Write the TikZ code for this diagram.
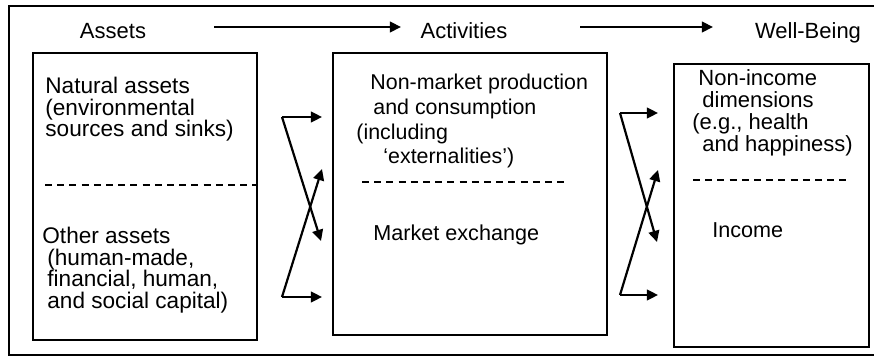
\documentclass[tikz,border=0pt]{standalone}
\usepackage{fontspec}
\setmainfont{Liberation Sans}
\usetikzlibrary{arrows.meta}

\tikzset{
  panel/.style={draw, line width=1pt, anchor=north west, inner sep=0pt},
  txt/.style={anchor=north west, inner sep=0pt, align=left},
  head/.style={anchor=base, inner sep=0pt, font=\fontsize{11}{12}\selectfont},
  flow/.style={line width=1.1pt, -{Triangle[length=5.6pt,width=5.4pt]}},
  split/.style={line width=0.7pt, dash pattern=on 3.5pt off 2.6pt},
}

\begin{document}
\begin{tikzpicture}[x=0.5pt, y=-0.5pt, font=\fontsize{10.8}{11}\selectfont]
  \useasboundingbox (0,0) rectangle (874,358);
  \draw [line width=1.1pt] (874,6) -- (9,6) -- (9,355) -- (874,355);

  % headings
  \node [head] (hassets)     at (113,39) {Assets};
  \node [head] (hactivities) at (464,39) {Activities};
  \node [head] (hwellbeing)  at (808,39) {Well-Being};
  \coordinate (h1) at (214,27);
  \coordinate (h2) at (401,27);
  \coordinate (h3) at (580,27);
  \coordinate (h4) at (713,27);
  \draw [flow, line width=0.85pt] (h1) -- (h2);
  \draw [flow, line width=0.85pt] (h3) -- (h4);

  % boxes
  \node [panel, minimum width=112pt, minimum height=143.5pt] (assets)     at (32,52)  {};
  \node [panel, minimum width=137pt, minimum height=141pt]   (activities) at (332,52) {};
  \node [panel, minimum width=97.5pt, minimum height=141.5pt] (wellbeing) at (673,63) {};

  \draw [split] (45,185)  -- (256,185);
  \draw [split] (362,182) -- (567,182);
  \draw [split] (693,180) -- (847,180);

  \node [txt, font=\fontsize{11.3}{10.75}\selectfont] (natural) at (45,77)
    {Natural assets\\(environmental\\sources and sinks)};
  \node [txt, font=\fontsize{11.3}{10.75}\selectfont] (other) at (42,227)
    {Other assets\\\hspace*{2.5pt}(human-made,\\\hspace*{2.5pt}financial, human,\\\hspace*{2.5pt}and social capital)};

  \node [txt, font=\fontsize{10.7}{12.3}\selectfont] (nonmarket) at (356,74)
    {\hspace*{7pt}Non-market production\\\hspace*{8.5pt}and consumption\\(including\\\hspace*{13.5pt}‘externalities’)};
  \node [txt] (market) at (373,224) {Market exchange};

  \node [txt, font=\fontsize{11}{11}\selectfont] (nonincome) at (692,69)
    {\hspace*{3pt}Non-income\\\hspace*{5pt}dimensions\\(e.g., health\\\hspace*{5pt}and happiness)};
  \node [txt] (income) at (712,222) {Income};

  % assets to activities
  \coordinate (a1) at (282,117);
  \coordinate (a2) at (282,297);
  \coordinate (b1) at (322,117);
  \coordinate (b2) at (322,169);
  \coordinate (b3) at (321,241);
  \coordinate (b4) at (322,297);
  \draw [flow] (a1) -- (b1);
  \draw [flow] (a1) -- (b3);
  \draw [flow] (a2) -- (b2);
  \draw [flow] (a2) -- (b4);

  % activities to well-being
  \coordinate (c1) at (620,113);
  \coordinate (c2) at (620,295);
  \coordinate (d1) at (658,113);
  \coordinate (d2) at (658,170);
  \coordinate (d3) at (657,242);
  \coordinate (d4) at (658,295);
  \draw [flow] (c1) -- (d1);
  \draw [flow] (c1) -- (d3);
  \draw [flow] (c2) -- (d2);
  \draw [flow] (c2) -- (d4);
\end{tikzpicture}
\end{document}
